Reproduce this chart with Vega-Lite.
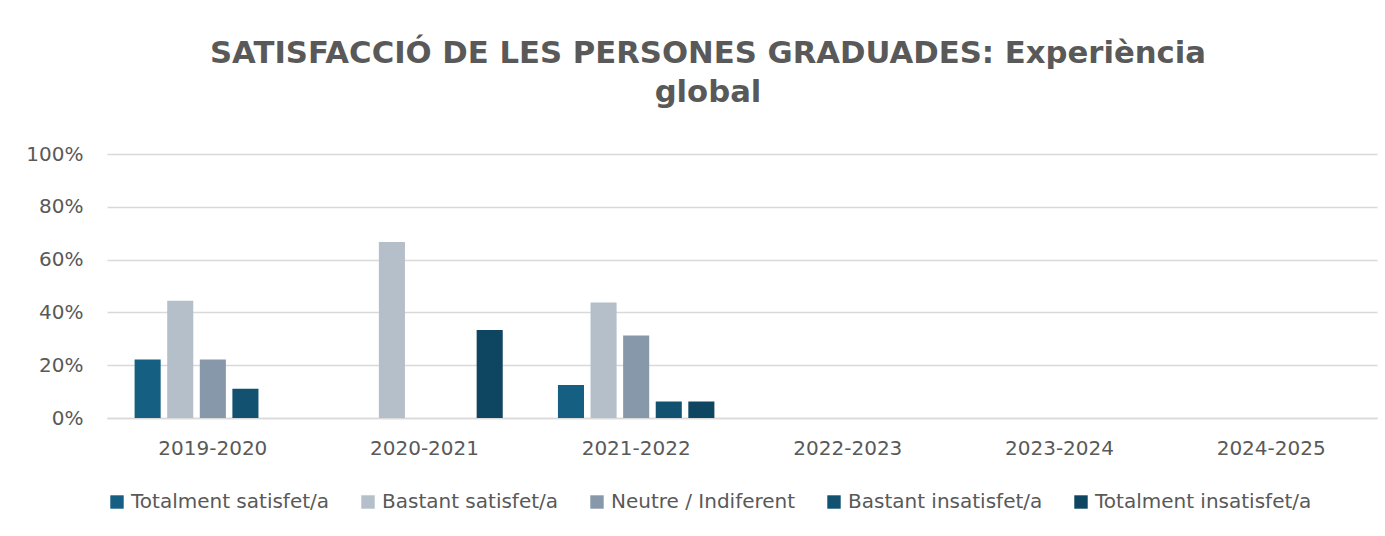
{
  "$schema": "https://vega.github.io/schema/vega-lite/v6.json",
  "width": 1270,
  "height": 264,
  "autosize": {"type": "none"},
  "padding": {"left": 107, "top": 154, "right": 8, "bottom": 118},
  "background": "white",
  "title": {
    "text": ["SATISFACCIÓ DE LES PERSONES GRADUADES: Experiència", "global"],
    "font": "DejaVu Sans",
    "fontWeight": "bold",
    "fontSize": 30.7,
    "color": "#595959",
    "lineHeight": 39,
    "anchor": "middle",
    "dx": -34,
    "offset": 35
  },
  "data": {
    "values": [
      {"curs": "2019-2020", "resposta": "Totalment satisfet/a", "valor": 0.222},
      {"curs": "2019-2020", "resposta": "Bastant satisfet/a", "valor": 0.444},
      {"curs": "2019-2020", "resposta": "Neutre / Indiferent", "valor": 0.222},
      {"curs": "2019-2020", "resposta": "Bastant insatisfet/a", "valor": 0.111},
      {"curs": "2020-2021", "resposta": "Bastant satisfet/a", "valor": 0.667},
      {"curs": "2020-2021", "resposta": "Totalment insatisfet/a", "valor": 0.333},
      {"curs": "2021-2022", "resposta": "Totalment satisfet/a", "valor": 0.125},
      {"curs": "2021-2022", "resposta": "Bastant satisfet/a", "valor": 0.4375},
      {"curs": "2021-2022", "resposta": "Neutre / Indiferent", "valor": 0.3125},
      {"curs": "2021-2022", "resposta": "Bastant insatisfet/a", "valor": 0.0625},
      {"curs": "2021-2022", "resposta": "Totalment insatisfet/a", "valor": 0.0625}
    ]
  },
  "mark": {"type": "bar"},
  "encoding": {
    "x": {
      "field": "curs",
      "type": "nominal",
      "scale": {
        "domain": ["2019-2020", "2020-2021", "2021-2022", "2022-2023", "2023-2024", "2024-2025"],
        "paddingInner": 0.23,
        "paddingOuter": 0.115
      },
      "axis": {
        "title": null,
        "labelAngle": 0,
        "labelFont": "DejaVu Sans",
        "labelFontSize": 20,
        "labelColor": "#595959",
        "labelPadding": 20,
        "ticks": false,
        "domainColor": "#d9d9d9",
        "domainWidth": 1.5
      }
    },
    "xOffset": {
      "field": "resposta",
      "type": "nominal",
      "scale": {
        "domain": ["Totalment satisfet/a", "Bastant satisfet/a", "Neutre / Indiferent", "Bastant insatisfet/a", "Totalment insatisfet/a"],
        "paddingInner": 0.2,
        "paddingOuter": 0.1
      }
    },
    "y": {
      "field": "valor",
      "type": "quantitative",
      "scale": {"domain": [0, 1], "nice": false},
      "axis": {
        "title": null,
        "format": ".0%",
        "values": [0, 0.2, 0.4, 0.6, 0.8, 1],
        "labelFont": "DejaVu Sans",
        "labelFontSize": 20,
        "labelColor": "#595959",
        "labelPadding": 24,
        "ticks": false,
        "domain": false,
        "gridColor": "#d9d9d9",
        "gridWidth": 1.5
      }
    },
    "color": {
      "field": "resposta",
      "type": "nominal",
      "scale": {
        "domain": ["Totalment satisfet/a", "Bastant satisfet/a", "Neutre / Indiferent", "Bastant insatisfet/a", "Totalment insatisfet/a"],
        "range": ["#156082", "#b5bfc9", "#8798aa", "#125270", "#0e4560"]
      },
      "legend": {
        "title": null,
        "orient": "none",
        "direction": "horizontal",
        "legendX": 0,
        "legendY": 338,
        "symbolType": "square",
        "symbolSize": 180,
        "symbolStrokeWidth": 0,
        "symbolOpacity": 1,
        "labelFont": "DejaVu Sans",
        "labelFontSize": 20,
        "labelColor": "#595959",
        "labelOffset": 4,
        "columnPadding": 28,
        "labelLimit": 400
      }
    }
  },
  "config": {
    "view": {"stroke": null}
  }
}
